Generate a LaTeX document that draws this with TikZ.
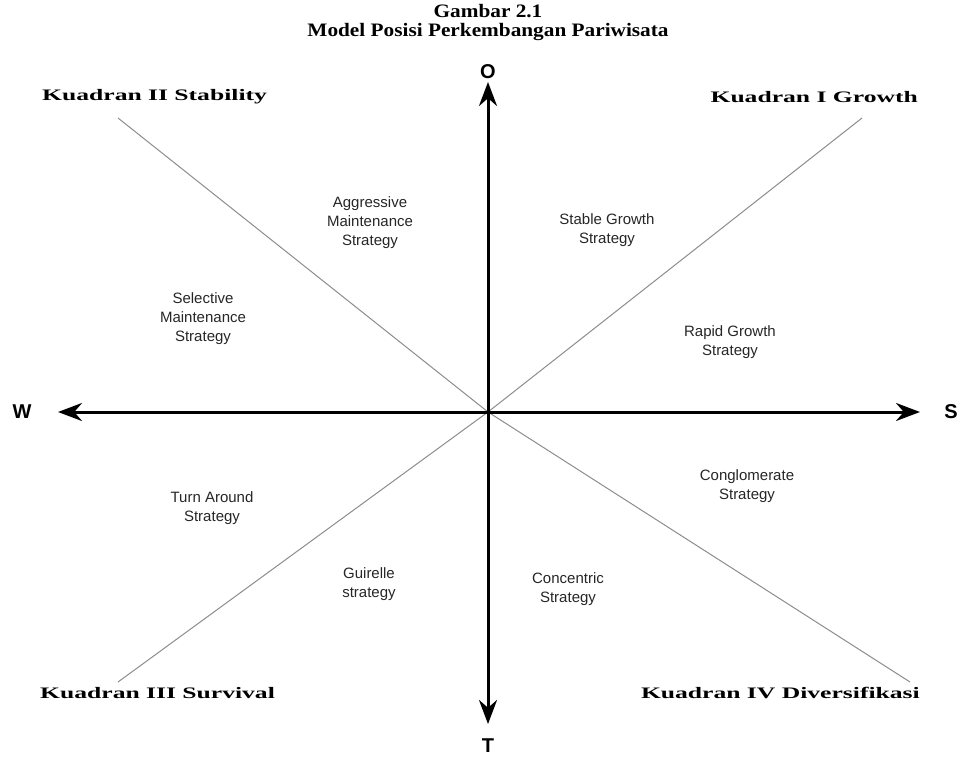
\documentclass[tikz,border=0pt]{standalone}
\usepackage{fontspec}
\setmainfont{Liberation Serif}
\setsansfont{Liberation Sans}
\newfontfamily\quadfont[FakeStretch=1.6]{Liberation Serif}
\newfontfamily\titlefont[FakeStretch=1.12]{Liberation Serif}
\usetikzlibrary{arrows.meta}
\begin{document}
\begin{tikzpicture}[x=1pt,y=-1pt,
  axis/.style={line width=3pt, {Stealth[length=24pt,width=18pt]}-{Stealth[length=24pt,width=18pt]}},
  diag/.style={draw=black!45, line width=1pt},
  strat/.style={font=\sffamily\fontsize{15}{19}\selectfont, align=center, text=black!85, inner sep=0pt},
  pole/.style={font=\sffamily\bfseries\fontsize{20}{20}\selectfont, inner sep=0pt},
  quad/.style={font=\quadfont\bfseries\fontsize{16}{16}\selectfont, inner sep=0pt},
  ttl/.style={font=\titlefont\bfseries\fontsize{19}{19}\selectfont, inner sep=0pt}]
\useasboundingbox (0,0) rectangle (967,757);

% title
\node[ttl] (t1) at (488,11) {Gambar 2.1};
\node[ttl] (t2) at (488,32) {Model Posisi Perkembangan Pariwisata};

% axis ends and centre
\coordinate (c) at (488,412);
\coordinate (top) at (488,82);
\coordinate (bot) at (488,724);
\coordinate (lft) at (58,412);
\coordinate (rgt) at (920,412);

% diagonal ends
\coordinate (nw) at (118,118);
\coordinate (se) at (910,682);
\coordinate (ne) at (862,118);
\coordinate (sw) at (118,682);

% four grey rays from the centre
\draw[diag] (c) -- (nw);
\draw[diag] (c) -- (se);
\draw[diag] (c) -- (ne);
\draw[diag] (c) -- (sw);
\draw[axis] (bot) -- (top);
\draw[axis] (lft) -- (rgt);

% axis letters
\node[pole] (O) at (488,72) {O};
\node[pole] (T) at (488,746) {T};
\node[pole] (W) at (22,412) {W};
\node[pole] (S) at (951,412) {S};

% quadrant titles
\node[quad, anchor=west] (q2) at (42,97) {Kuadran II Stability};
\node[quad, anchor=east] (q1) at (918,97) {Kuadran I Growth};
\node[quad, anchor=west] (q3) at (40,693) {Kuadran III Survival};
\node[quad, anchor=east] (q4) at (920,693) {Kuadran IV Diversifikasi};

% strategies
\node[strat] (s1) at (370,223) {Aggressive\\Maintenance\\Strategy};
\node[strat] (s2) at (607,230) {Stable Growth\\Strategy};
\node[strat] (s3) at (203,319) {Selective\\Maintenance\\Strategy};
\node[strat] (s4) at (730,342) {Rapid Growth\\Strategy};
\node[strat] (s5) at (212,508) {Turn Around\\Strategy};
\node[strat] (s6) at (747,486) {Conglomerate\\Strategy};
\node[strat] (s7) at (369,584) {Guirelle\\strategy};
\node[strat] (s8) at (568,589) {Concentric\\Strategy};
\end{tikzpicture}
\end{document}
